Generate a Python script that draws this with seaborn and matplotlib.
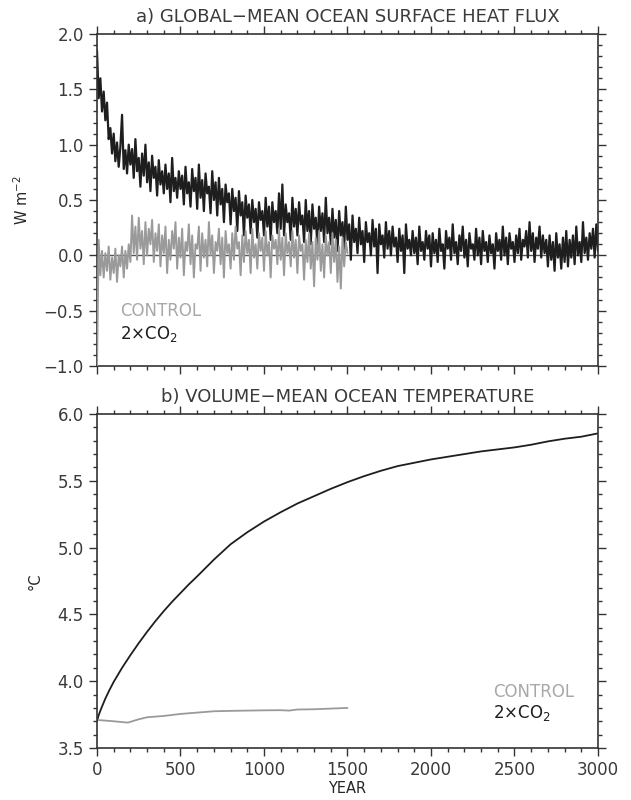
import numpy as np
import pandas as pd
import matplotlib
matplotlib.use('Agg')
import matplotlib.pyplot as plt
from matplotlib.ticker import MultipleLocator, FuncFormatter
import seaborn as sns

# ------- Data ---------------------------------------
# a) heat flux, one value every 10 years
flux_years_2co2 = list(range(0, 3001, 10))
flux_2co2 = [
    1.85, 1.42, 1.60, 1.30, 1.48, 1.22, 1.38, 1.05, 1.15, 0.92,
    1.10, 0.85, 1.02, 0.80, 0.98, 1.27, 0.78, 0.95, 0.74, 1.00,
    0.82, 0.96, 0.70, 1.05, 0.76, 0.88, 0.62, 0.92, 0.72, 1.00,
    0.66, 0.84, 0.58, 0.90, 0.70, 0.80, 0.54, 0.86, 0.64, 0.76,
    0.56, 0.82, 0.60, 0.74, 0.48, 0.88, 0.58, 0.70, 0.52, 0.76,
    0.60, 0.72, 0.46, 0.80, 0.56, 0.66, 0.44, 0.78, 0.58, 0.70,
    0.42, 0.82, 0.52, 0.68, 0.40, 0.74, 0.56, 0.62, 0.38, 0.76,
    0.50, 0.66, 0.36, 0.70, 0.46, 0.60, 0.30, 0.64, 0.48, 0.56,
    0.28, 0.60, 0.40, 0.52, 0.22, 0.58, 0.36, 0.48, 0.18, 0.54,
    0.34, 0.46, 0.20, 0.50, 0.30, 0.42, 0.16, 0.48, 0.32, 0.40,
    0.18, 0.52, 0.26, 0.44, 0.14, 0.48, 0.30, 0.40, 0.20, 0.56,
    0.24, 0.64, 0.18, 0.46, 0.30, 0.38, 0.14, 0.52, 0.26, 0.42,
    0.18, 0.48, 0.28, 0.36, 0.12, 0.50, 0.22, 0.40, 0.10, 0.46,
    0.24, 0.34, 0.08, 0.44, 0.22, 0.38, 0.12, 0.52, 0.20, 0.34,
    0.10, 0.42, 0.16, 0.32, 0.04, 0.40, 0.18, 0.30, 0.06, 0.44,
    0.14, 0.28, -0.04, 0.36, 0.12, 0.24, 0.02, 0.34, 0.10, 0.22,
    -0.06, 0.30, 0.12, 0.20, 0.00, 0.32, 0.08, 0.24, -0.16, 0.28,
    0.10, 0.18, -0.02, 0.30, 0.06, 0.22, 0.00, 0.26, 0.08, 0.16,
    -0.06, 0.24, 0.04, 0.18, -0.16, 0.28, 0.06, 0.14, 0.00, 0.22,
    0.02, 0.16, -0.08, 0.26, 0.04, 0.12, -0.04, 0.22, 0.06, 0.18,
    -0.10, 0.20, 0.02, 0.14, -0.06, 0.24, 0.04, 0.10, -0.12, 0.22,
    0.06, 0.16, -0.04, 0.28, 0.02, 0.12, -0.08, 0.18, 0.04, 0.26,
    -0.02, 0.14, -0.10, 0.20, 0.06, 0.10, -0.04, 0.24, 0.00, 0.16,
    -0.08, 0.22, 0.04, 0.12, -0.06, 0.18, 0.02, 0.10, -0.12, 0.20,
    0.04, 0.14, -0.04, 0.26, 0.00, 0.16, -0.08, 0.20, 0.06, 0.12,
    -0.06, 0.18, 0.02, 0.24, -0.04, 0.14, 0.08, 0.22, -0.02, 0.30,
    0.04, 0.20, -0.06, 0.16, 0.06, 0.26, -0.02, 0.18, 0.02, 0.14,
    -0.10, 0.18, -0.04, 0.12, -0.14, 0.20, -0.02, 0.10, -0.12, 0.16,
    -0.06, 0.22, -0.10, 0.14, -0.02, 0.18, -0.08, 0.26, 0.00, 0.12,
    -0.06, 0.30, 0.02, 0.16, -0.04, 0.20, 0.06, 0.24, -0.02, 0.28,
    0.04,
]

flux_years_ctrl = list(range(0, 1501, 10))
flux_ctrl = [
    -1.00, 0.14, -0.18, 0.04, -0.20, 0.02, -0.14, 0.08, -0.22, -0.02,
    -0.16, 0.06, -0.24, 0.00, -0.10, 0.08, -0.20, 0.04, -0.12, 0.10,
    -0.06, 0.36, 0.02, 0.26, -0.04, 0.34, 0.06, 0.22, -0.08, 0.30,
    0.00, 0.24, 0.10, 0.32, -0.06, 0.20, 0.04, 0.28, -0.10, 0.18,
    0.02, 0.26, -0.16, 0.14, -0.04, 0.22, 0.06, 0.30, -0.12, 0.16,
    -0.02, 0.24, -0.18, 0.12, 0.04, 0.28, -0.08, 0.18, -0.20, 0.10,
    0.06, 0.26, -0.14, 0.20, -0.02, 0.14, -0.10, 0.30, 0.00, 0.18,
    -0.16, 0.12, 0.04, 0.24, -0.08, 0.16, -0.20, 0.22, 0.02, 0.10,
    -0.12, 0.20, -0.04, 0.26, 0.06, 0.12, -0.18, 0.18, -0.06, 0.22,
    0.02, 0.14, -0.16, 0.24, -0.02, 0.10, -0.12, 0.20, 0.04, 0.16,
    -0.14, 0.22, 0.00, 0.12, -0.20, 0.18, 0.06, 0.14, -0.08, 0.24,
    -0.04, 0.16, -0.18, 0.20, 0.02, 0.12, -0.10, 0.22, -0.02, 0.14,
    -0.16, 0.18, 0.04, 0.10, -0.22, 0.14, -0.06, 0.20, -0.12, 0.12,
    -0.28, 0.16, -0.04, 0.22, -0.14, 0.10, -0.20, 0.18, 0.00, 0.12,
    -0.16, 0.20, -0.06, 0.14, -0.24, 0.08, -0.30, 0.16, -0.10, 0.12,
    0.02,
]

# b) volume-mean ocean temperature
temp_years_2co2 = [0, 10, 25, 50, 75, 100, 150, 200, 250, 300, 350, 400, 450, 500, 550,
                   600, 700, 800, 900, 1000, 1100, 1200, 1300, 1400, 1500, 1600, 1700,
                   1800, 1900, 2000, 2100, 2200, 2300, 2400, 2500, 2600, 2700, 2800,
                   2900, 3000]
temp_2co2 = [3.70, 3.745, 3.795, 3.87, 3.935, 3.995, 4.10, 4.195, 4.285, 4.37, 4.45, 4.525,
             4.595, 4.66, 4.725, 4.785, 4.91, 5.025, 5.115, 5.195, 5.265, 5.33, 5.385,
             5.44, 5.49, 5.535, 5.575, 5.61, 5.635, 5.66, 5.68, 5.70, 5.72, 5.735, 5.75,
             5.77, 5.795, 5.815, 5.83, 5.855]

temp_years_ctrl = [0, 100, 185, 250, 300, 400, 500, 600, 700, 800, 900, 1000, 1100,
                   1150, 1200, 1300, 1400, 1500]
temp_ctrl = [3.71, 3.70, 3.69, 3.715, 3.73, 3.74, 3.755, 3.765, 3.775, 3.778, 3.78, 3.782,
             3.783, 3.78, 3.788, 3.79, 3.795, 3.80]

BLACK = '#1e1e1e'
GREY = '#9a9a9a'
TEXT = '#3a3a3a'
FS = 12

sns.set_style('ticks')
plt.rcParams['font.family'] = ['DejaVu Sans']
plt.rcParams['axes.edgecolor'] = '#333333'
plt.rcParams['xtick.color'] = '#333333'
plt.rcParams['ytick.color'] = '#333333'
plt.rcParams['xtick.labelcolor'] = TEXT
plt.rcParams['ytick.labelcolor'] = TEXT
plt.rcParams['text.color'] = TEXT

fig = plt.figure(figsize=(6.31, 8.0), dpi=100)
ax1 = fig.add_axes([97 / 631, 1 - 366 / 800, 501 / 631, 332 / 800])
ax2 = fig.add_axes([97 / 631, 1 - 748 / 800, 501 / 631, 334 / 800])

# ------- a) heat flux -------------------
ax1.axhline(0, color='#555555', linewidth=1.0, zorder=1)
sns.lineplot(x=flux_years_2co2, y=flux_2co2, ax=ax1, color=BLACK, linewidth=1.6, zorder=2)
sns.lineplot(x=flux_years_ctrl, y=flux_ctrl, ax=ax1, color=GREY, linewidth=1.4, zorder=3)
ax1.set_ylim(-1.0, 2.0)
ax1.set_ylabel('W m$^{-2}$', fontsize=FS - 1.5, labelpad=9)
ax1.yaxis.set_major_locator(MultipleLocator(0.5))
ax1.yaxis.set_minor_locator(MultipleLocator(0.1))
ax1.set_xticklabels([])
ax1.set_title('a) GLOBAL\u2212MEAN OCEAN SURFACE HEAT FLUX', fontsize=FS + 1, pad=9)
ax1.text(0.046, 0.167, 'CONTROL', transform=ax1.transAxes, color='#a8a8a8',
         fontsize=FS, va='center')
ax1.text(0.046, 0.096, '2\u00d7CO$_2$', transform=ax1.transAxes, color=BLACK,
         fontsize=FS, va='center')

# ------- b) temperature -------------------
sns.lineplot(x=temp_years_2co2, y=temp_2co2, ax=ax2, color=BLACK, linewidth=1.3)
sns.lineplot(x=temp_years_ctrl, y=temp_ctrl, ax=ax2, color=GREY, linewidth=1.3)
ax2.set_ylim(3.5, 6.0)
ax2.set_ylabel('\u00b0C', fontsize=FS - 1.5, labelpad=11)
ax2.set_xlabel('YEAR', fontsize=FS - 1.5, labelpad=1)
ax2.yaxis.set_major_locator(MultipleLocator(0.5))
ax2.yaxis.set_minor_locator(MultipleLocator(0.1))
ax2.set_title('b) VOLUME\u2212MEAN OCEAN TEMPERATURE', fontsize=FS + 1, pad=9)
ax2.text(0.79, 0.169, 'CONTROL', transform=ax2.transAxes, color='#a8a8a8',
         fontsize=FS, va='center')
ax2.text(0.79, 0.105, '2\u00d7CO$_2$', transform=ax2.transAxes, color=BLACK,
         fontsize=FS, va='center')

fmt = FuncFormatter(lambda v, pos: f'{v:.1f}'.replace('-', '\u2212'))
for ax in (ax1, ax2):
    ax.set_xlim(0, 3000)
    ax.xaxis.set_major_locator(MultipleLocator(500))
    ax.xaxis.set_minor_locator(MultipleLocator(100))
    ax.yaxis.set_major_formatter(fmt)
    ax.tick_params(which='both', direction='out', top=True, right=True,
                   labelsize=FS, width=1.0)
    ax.tick_params(which='major', length=6)
    ax.tick_params(which='minor', length=3)
    for s in ax.spines.values():
        s.set_visible(True)
        s.set_linewidth(1.2)
    ax.grid(False)

fig.savefig('out.png', dpi=100)
print("Saved out.png")
